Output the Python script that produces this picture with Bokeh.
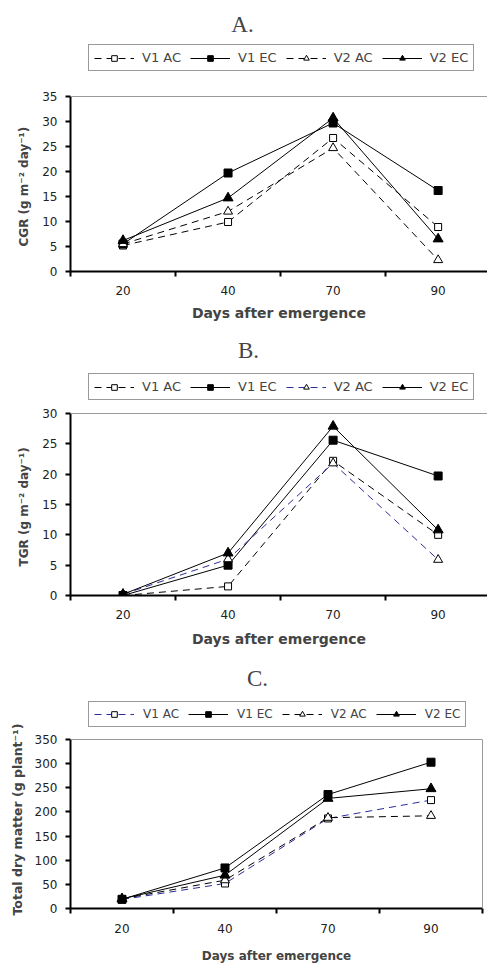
from bokeh.plotting import figure
from bokeh.models import (Range1d, FixedTicker, Legend, LegendItem, Label,
                          SingleIntervalTicker, Span, LinearAxis, Title)
from bokeh.layouts import column
from bokeh.embed import file_html
from bokeh.resources import INLINE

# ---------------- data ----------------
days = ["20", "40", "70", "90"]
series_names = ["V1 AC", "V1 EC", "V2 AC", "V2 EC"]

cgr_v1ac = [5.2, 9.9, 26.7, 8.9]
cgr_v1ec = [5.5, 19.7, 29.7, 16.2]
cgr_v2ac = [5.5, 12.0, 24.7, 2.3]
cgr_v2ec = [6.2, 14.7, 30.7, 6.5]

tgr_v1ac = [0.0, 1.5, 22.2, 10.0]
tgr_v1ec = [0.0, 5.0, 25.6, 19.7]
tgr_v2ac = [0.2, 6.0, 21.8, 5.9]
tgr_v2ec = [0.2, 7.0, 27.9, 10.8]

tdm_v1ac = [18.6, 51.8, 186.5, 224.5]
tdm_v1ec = [19.0, 84.0, 236.0, 303.0]
tdm_v2ac = [20.0, 58.7, 188.0, 192.0]
tdm_v2ec = [20.0, 69.0, 228.0, 248.0]

BLUE = "#2b2b9c"
SANS = "DejaVu Sans"


def make_panel(title, ylabel, ymax, ystep, data, colors, cfg):
    xs = [i + 0.5 for i in range(len(days))]
    # the frame also holds the title and legend area above the plotted region
    yend = ymax * cfg["fh"] / cfg["ph"]
    p = figure(frame_width=cfg["fw"], frame_height=cfg["fh"],
               min_border_left=cfg["bl"], min_border_right=cfg["br"],
               min_border_top=0, min_border_bottom=cfg["bb"],
               x_range=Range1d(0, cfg["xmax"]), y_range=Range1d(0, yend),
               output_backend="svg", toolbar_location=None,
               background_fill_color="white", border_fill_color="white")
    p.outline_line_color = None
    p.xgrid.visible = False
    p.ygrid.visible = False

    xa = p.xaxis[0]
    xa.ticker = FixedTicker(ticks=xs, minor_ticks=list(range(len(days) + 1)))
    xa.major_label_overrides = {x: d for x, d in zip(xs, days)}
    xa.major_tick_line_color = None
    xa.major_tick_out = 5
    xa.major_tick_in = 0
    xa.minor_tick_out = 5
    xa.minor_tick_in = 0
    xa.minor_tick_line_color = "black"
    xa.minor_tick_line_width = 2
    xa.axis_line_width = 2
    xa.axis_line_color = "black"
    xa.major_label_text_font = SANS
    xa.major_label_text_font_size = cfg["tick_fs"]
    xa.major_label_text_color = "#222222"
    xa.major_label_standoff = cfg["xstand"]
    xa.axis_label = "Days after emergence"
    xa.axis_label_text_font = SANS
    xa.axis_label_text_font_style = "bold"
    xa.axis_label_text_font_size = cfg["lab_fs"]
    xa.axis_label_standoff = cfg["xlabstand"]

    ya = p.yaxis[0]
    ya.bounds = (0, ymax)
    ya.ticker = SingleIntervalTicker(interval=ystep, num_minor_ticks=0)
    ya.major_tick_out = 5
    ya.major_tick_in = 0
    ya.major_tick_line_width = 2
    ya.minor_tick_line_color = None
    ya.axis_line_width = 2
    ya.axis_line_color = "black"
    ya.major_label_text_font = SANS
    ya.major_label_text_font_size = cfg["tick_fs"]
    ya.major_label_text_color = "#222222"
    ya.major_label_standoff = 8

    # y axis title, placed along the plotted region only
    yt = Title(text=ylabel, align="left", offset=cfg["yoff"],
               text_font=SANS, text_font_style="bold",
               text_font_size=cfg["ylab_fs"], vertical_align="bottom")
    try:
        yt.padding = cfg["ypad"]
    except Exception:
        pass
    p.add_layout(yt, "left")

    # grey top border of the plot area
    p.add_layout(Span(location=ymax, dimension="width",
                      line_color="#9a9a9a", line_width=1))
    if cfg["right_border"]:
        ra = LinearAxis(bounds=(0, ymax), ticker=FixedTicker(ticks=[]),
                        axis_line_color="#9a9a9a", axis_line_width=1,
                        major_tick_line_color=None, minor_tick_line_color=None,
                        major_label_text_font_size="0px")
        p.add_layout(ra, "right")

    items = []
    styles = [
        dict(dash="7 5", marker="square", fill="white", size=7),
        dict(dash="solid", marker="square", fill="black", size=8),
        dict(dash="7 5", marker="triangle", fill="white", size=9),
        dict(dash="solid", marker="triangle", fill="black", size=10),
    ]
    for name, ys, col, st in zip(series_names, data, colors, styles):
        r1 = p.line(xs, ys, line_color=col, line_width=1, line_dash=st["dash"])
        r2 = p.scatter(xs, ys, marker=st["marker"], size=st["size"],
                       fill_color=st["fill"], line_color="black", line_width=1)
        items.append(LegendItem(label=name, renderers=[r1, r2]))

    leg = Legend(items=items, orientation="horizontal",
                 location=(cfg["lx"], cfg["ly"]),
                 glyph_width=40, glyph_height=14, label_height=14,
                 label_standoff=cfg["lstand"], spacing=cfg["lspace"],
                 padding=5, margin=0,
                 label_text_font=SANS, label_text_font_size=cfg["leg_fs"],
                 border_line_color="#333333", border_line_width=1,
                 background_fill_color="white", background_fill_alpha=1)
    p.add_layout(leg, "center")

    p.add_layout(Label(x=cfg["tx"], y=cfg["ty"], x_units="screen",
                       y_units="screen", text=title,
                       text_font="Liberation Serif", text_font_size="23px",
                       text_align="center", text_baseline="middle"))
    return p


# fh: whole frame height (incl. title/legend area); ph: height of plotted area
cfgA = dict(fw=417, fh=271, ph=175, bl=70, br=0, bb=59, xmax=3.97,
            tick_fs="12px", lab_fs="14px", ylab_fs="12px", leg_fs="13px",
            xstand=9, xlabstand=7, yoff=21, ypad=4, lx=18, ly=200, lstand=8,
            lspace=9, tx=172, ty=247, right_border=False)
cfgB = dict(fw=417, fh=265, ph=182, bl=70, br=0, bb=57, xmax=3.97,
            tick_fs="12px", lab_fs="14px", ylab_fs="12px", leg_fs="13px",
            xstand=9, xlabstand=9, yoff=25, ypad=4, lx=18, ly=195, lstand=8,
            lspace=9, tx=178, ty=245, right_border=False)
cfgC = dict(fw=412, fh=256, ph=169, bl=68, br=7, bb=57, xmax=4,
            tick_fs="12px", lab_fs="12px", ylab_fs="12.5px", leg_fs="12px",
            xstand=10, xlabstand=13, yoff=-9, ypad=2, lx=18, ly=181, lstand=9,
            lspace=9, tx=187, ty=230, right_border=True)

pA = make_panel("A.", "CGR (g m\u207b\u00b2 day\u207b\u00b9)", 35, 5,
                [cgr_v1ac, cgr_v1ec, cgr_v2ac, cgr_v2ec],
                ["black", "black", "black", "black"], cfgA)
pB = make_panel("B.", "TGR (g m\u207b\u00b2 day\u207b\u00b9)", 30, 5,
                [tgr_v1ac, tgr_v1ec, tgr_v2ac, tgr_v2ec],
                ["black", "black", BLUE, "black"], cfgB)
pC = make_panel("C.", "Total dry matter (g plant\u207b\u00b9)", 350, 50,
                [tdm_v1ac, tdm_v1ec, tdm_v2ac, tdm_v2ec],
                [BLUE, "black", "black", "black"], cfgC)

layout = column(pA, pB, pC, spacing=0)
open("out.html", "w").write(file_html(layout, INLINE))
